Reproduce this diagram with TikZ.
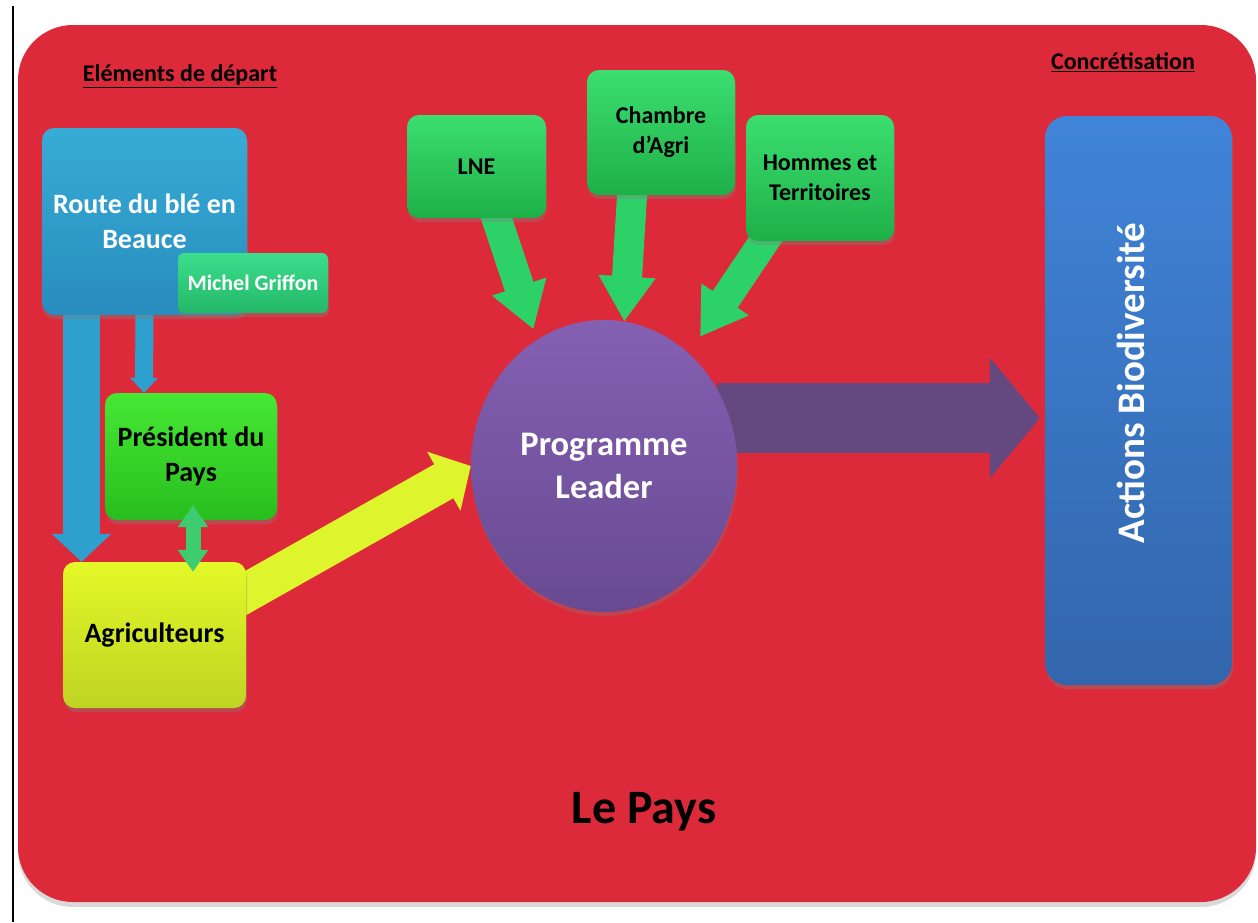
\documentclass[tikz,border=0pt]{standalone}
\usepackage{fontspec}
\setmainfont{Carlito}
\usetikzlibrary{positioning,arrows.meta,shapes.geometric,shadows}
\definecolor{paysred}{RGB}{221,42,58}
\definecolor{routetop}{RGB}{55,172,214}
\definecolor{routebot}{RGB}{40,140,190}
\definecolor{mgtop}{RGB}{58,222,140}
\definecolor{mgbot}{RGB}{36,184,104}
\definecolor{prestop}{RGB}{70,232,52}
\definecolor{presbot}{RGB}{40,190,30}
\definecolor{agritop}{RGB}{228,248,40}
\definecolor{agribot}{RGB}{190,212,34}
\definecolor{partop}{RGB}{60,222,112}
\definecolor{parbot}{RGB}{30,176,72}
\definecolor{leadtop}{RGB}{132,96,178}
\definecolor{leadbot}{RGB}{104,74,146}
\definecolor{acttop}{RGB}{64,132,216}
\definecolor{actbot}{RGB}{50,102,172}
\definecolor{arrowblue}{RGB}{46,160,206}
\definecolor{arrowgreen}{RGB}{44,210,104}
\definecolor{arrowyellow}{RGB}{222,244,44}
\definecolor{arrowpurple}{RGB}{100,72,128}
\definecolor{arrowmint}{RGB}{62,204,112}
\pgfdeclarelayer{panel}
\pgfdeclarelayer{links}
\pgfsetlayers{panel,links,main}
\tikzset{
box/.style={rounded corners=12pt, align=center, drop shadow={shadow xshift=1pt, shadow yshift=-4pt, opacity=.35}}, % the rounded boxes
bigtext/.style={font=\fontsize{28}{35}\selectfont\bfseries},
smalltext/.style={font=\fontsize{24}{30}\selectfont\bfseries},
fatblue/.style={draw=arrowblue, line width=37pt, -{Triangle[length=28pt,width=58pt]}},
thinblue/.style={draw=arrowblue, line width=18pt, -{Triangle[length=15pt,width=27pt]}},
fatgreen/.style={draw=arrowgreen, line width=30pt, -{Triangle[length=45pt,width=54pt]}},
fatyellow/.style={draw=arrowyellow, line width=39pt, -{Triangle[length=31pt,width=66pt]}},
fatpurple/.style={draw=arrowpurple, line width=70pt, -{Triangle[length=50pt,width=118pt]}},
twoway/.style={draw=arrowmint, line width=15pt, {Triangle[length=22pt,width=29pt]}-{Triangle[length=22pt,width=29pt]}},
}

\begin{document}
\begin{tikzpicture}[x=1pt,y=-1pt]
        \useasboundingbox (0,0) rectangle (1258,922);
        \draw[line width=1.6pt] (13,6) -- (13,922);
        \begin{pgfonlayer}{panel}
        \fill[paysred, rounded corners=55pt, drop shadow={shadow xshift=0pt, shadow yshift=-5pt, opacity=.3}] (18,25) rectangle (1256,902);
        \end{pgfonlayer}
        \node[smalltext] at (180,76) (depart) {\underline{Eléments de départ}};
        \node[smalltext] at (1123,62) (concr) {\underline{Concrétisation}};
        \node[box, bigtext, text=white, top color=routetop, bottom color=routebot, minimum width=205pt, minimum height=187pt] at (144.5,221.5) (route) {Route du blé en\\Beauce};
        \node[box, text=white, font=\fontsize{22}{26}\selectfont\bfseries, rounded corners=6pt, top color=mgtop, bottom color=mgbot, minimum width=150pt, minimum height=60pt] at (253,283) (mg) {Michel Griffon};
        \node[box, bigtext, top color=prestop, bottom color=presbot, minimum width=172pt, minimum height=127pt] at (191,456.5) (pres) {Président du\\Pays};
        \node[box, bigtext, top color=agritop, bottom color=agribot, minimum width=183pt, minimum height=146pt] at (154.5,635) (agri) {Agriculteurs};
        \node[box, smalltext, top color=partop, bottom color=parbot, minimum width=139pt, minimum height=103pt] at (476.5,166.5) (lne) {LNE};
        \node[box, smalltext, top color=partop, bottom color=parbot, minimum width=148pt, minimum height=125pt] at (661,132.5) (ch) {Chambre\\d’Agri};
        \node[box, smalltext, top color=partop, bottom color=parbot, minimum width=148pt, minimum height=126pt] at (820,178) (ht) {Hommes et\\Territoires};
        \node[ellipse, text=white, font=\fontsize{34.5}{43}\selectfont\bfseries, align=center, top color=leadtop, bottom color=leadbot, minimum width=266pt, minimum height=292pt, drop shadow={shadow xshift=1pt, shadow yshift=-4pt, opacity=.3}] at (604,466) (pl) {Programme\\Leader};
        \node[box, rounded corners=22pt, top color=acttop, bottom color=actbot, minimum width=187pt, minimum height=569pt] at (1138.5,400.5) (ab) {};
        \node[rotate=90, text=white, font=\fontsize{39}{44}\selectfont\bfseries] at (1131,383) (abtext) {Actions Biodiversité};
        \node[font=\fontsize{48}{56}\selectfont\bfseries] at (644,812) (pays) {Le Pays};
        \begin{pgfonlayer}{links}
        \draw
        ([xshift=-63pt,yshift=15pt]route.south) edge[fatblue] ([xshift=-73pt]agri.north)
        ([yshift=10pt]route.south) edge[thinblue] ([xshift=-47pt]pres.north)
        ([xshift=-20pt,yshift=31pt]agri.east) edge[fatyellow] (pl.west)
        ([xshift=15pt,yshift=15pt]lne.south) edge[fatgreen, shorten >=11pt] (pl.118)
        ([xshift=-28pt,yshift=15pt]ch.south) edge[fatgreen] (pl.82)
        ([xshift=-47pt,yshift=13pt]ht.south) edge[fatgreen, shorten >=20pt] (pl.53)
        ([xshift=-20pt,yshift=48pt]pl.east) edge[fatpurple] ([xshift=-5pt,yshift=-17.5pt]ab.west)
        ;
        \end{pgfonlayer}
        \draw ([xshift=2pt,yshift=15pt]pres.south) edge[twoway] ([xshift=38.5pt,yshift=-10pt]agri.north);
\end{tikzpicture}
\end{document}
